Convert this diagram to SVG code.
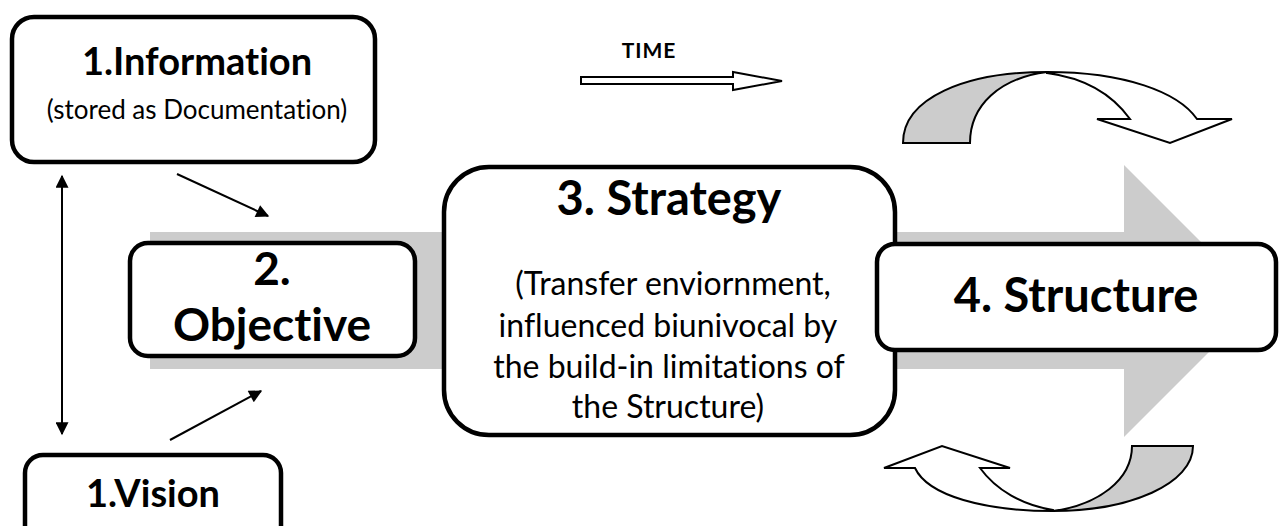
<svg xmlns="http://www.w3.org/2000/svg" width="1283" height="526" viewBox="0 0 1283 526">
<style>
.box{fill:#fff;stroke:#000;stroke-width:4.5}
.b{font-family:Lato,"Open Sans","Liberation Sans",sans-serif;font-weight:bold;fill:#000;text-anchor:middle;font-variant-ligatures:none}
.r{font-family:Lato,"Open Sans","Liberation Sans",sans-serif;font-weight:normal;fill:#000;text-anchor:middle;font-variant-ligatures:none}
.conn{stroke:#000;stroke-width:2;fill:none}
.curv{stroke:#000;stroke-width:2;stroke-linejoin:miter}
</style>
<defs>
<marker id="ah" viewBox="0 0 10 10" refX="9" refY="5" markerWidth="15" markerHeight="13" markerUnits="userSpaceOnUse" orient="auto-start-reverse">
<path d="M0,0 L10,5 L0,10 Z" fill="#000"/>
</marker>
</defs>
<rect width="1283" height="526" fill="#fff"/>
<g id="big-arrow">
<path d="M150,232 L1124,232 L1124,165 L1260,301 L1124,437 L1124,369 L150,369 Z" fill="#cccccc"/>
</g>
<g id="time-arrow">
<text class="b" x="649" y="58" font-size="21" letter-spacing="1">TIME</text>
<path d="M581,77 L733,77 L733,72 L782,81 L733,90 L733,84 L581,84 Z" fill="#fff" stroke="#000" stroke-width="2"/>
</g>
<g id="curved-top">
<path class="curv" d="M903,143 C903,98 965,72 1047,72 C1000,78 970,105 970,143 Z" fill="#cccccc"/>
<path class="curv" d="M1047,72 C1125,72 1178,92 1197,119 L1232,119 L1170,143 L1097,119 L1130,119 C1112,94 1085,78 1047,73 Z" fill="#fff"/>
</g>
<g id="curved-bottom">
<path class="curv" d="M1193,446 C1193,484 1130,511 1053,511 C1098,505 1132,480 1132,446 Z" fill="#cccccc"/>
<path class="curv" d="M1053,511 C985,511 928,496 915,468 L884,468 L942,446 L1010,468 L980,468 C996,490 1022,505 1053,510 Z" fill="#fff"/>
</g>
<g id="connectors">
<line class="conn" x1="62" y1="176" x2="62" y2="434" marker-start="url(#ah)" marker-end="url(#ah)"/>
<line class="conn" x1="177" y1="174" x2="268" y2="216" marker-end="url(#ah)"/>
<line class="conn" x1="170" y1="440" x2="261" y2="391" marker-end="url(#ah)"/>
</g>
<g id="information">
<rect class="box" x="12" y="17" width="363" height="145" rx="22"/>
<text class="b" x="197" y="75" font-size="38">1.Information</text>
<text class="r" x="197" y="119" font-size="26">(stored as Documentation)</text>
</g>
<g id="vision">
<rect class="box" x="25" y="455" width="256" height="100" rx="18"/>
<text class="b" x="153" y="507" font-size="38">1.Vision</text>
</g>
<g id="objective">
<rect class="box" x="130" y="243" width="285" height="113" rx="18"/>
<text class="b" x="272" y="285" font-size="46">2.</text>
<text class="b" x="272" y="341" font-size="46">Objective</text>
</g>
<g id="strategy">
<rect class="box" x="444" y="167" width="451" height="268" rx="45"/>
<text class="b" x="669" y="215" font-size="47">3. Strategy</text>
<text class="r" x="673" y="295" font-size="32">(Transfer enviornment,</text>
<text class="r" x="668" y="337" font-size="32">influenced biunivocal by</text>
<text class="r" x="669" y="378" font-size="32">the build-in limitations of</text>
<text class="r" x="668" y="418" font-size="32">the Structure)</text>
</g>
<g id="structure">
<rect class="box" x="877" y="244" width="399" height="106" rx="18"/>
<text class="b" x="1076" y="312" font-size="47">4. Structure</text>
</g>
</svg>
